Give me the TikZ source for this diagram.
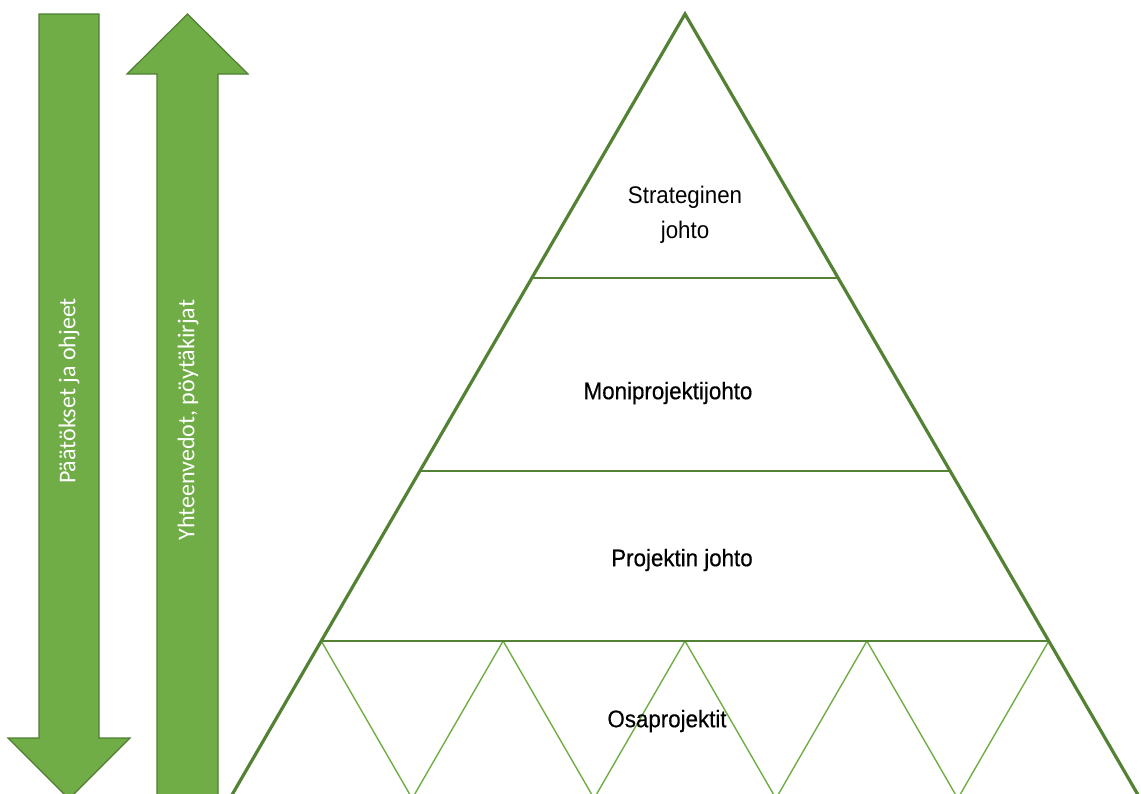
\documentclass[tikz,border=0pt]{standalone}
\usepackage{fontspec}
\setmainfont{Liberation Sans}
\newfontfamily\heavyfont{Liberation Sans}[FakeBold=0.5]
\newfontfamily\arrowfont{Carlito}
\usetikzlibrary{calc}

\definecolor{leaf}{HTML}{70AD47}
\definecolor{leafedge}{HTML}{507E32}
\definecolor{pine}{HTML}{548235}

\tikzset{
  flowarrow/.style={fill=leaf, draw=leafedge, line width=1.2pt, line join=miter},
  arrowlabel/.style={rotate=90, text=white, inner sep=0pt,
    font=\arrowfont\fontsize{24}{28}\selectfont},
  frame/.style={draw=pine, line width=3.2pt, line cap=round},
  tier/.style={draw=pine, line width=2.6pt},
  subdiv/.style={draw=leaf, line width=1.4pt},
  levellabel/.style={inner sep=0pt, align=center,
    font=\fontsize{24}{35}\selectfont},
  heavylabel/.style={levellabel, font=\heavyfont\fontsize{24}{35}\selectfont},
}
\newcommand{\narrow}[1]{\scalebox{0.93}[1]{#1}}

\begin{document}
\begin{tikzpicture}[x=1pt, y=-1pt]
  \useasboundingbox (0,0) rectangle (1141,793);
  \clip (0,0) rectangle (1141,793);

  % downward arrow: decisions and instructions
  \draw[flowarrow] (39,14) -- (99,14) -- (99,738) -- (130,738) -- (69,799)
    -- (8,738) -- (39,738) -- cycle;
  % upward arrow: summaries and minutes
  \draw[flowarrow] (187.5,14) -- (248,74) -- (218,74) -- (218,805)
    -- (157,805) -- (157,74) -- (127,74) -- cycle;

  \node[arrowlabel] (down) at (69,391) {Päätökset ja ohjeet};
  \node[arrowlabel] (up) at (188,420) {Yhteenvedot, pöytäkirjat};

  % pyramid outline
  \coordinate (apex) at (685,14);
  \coordinate (bl) at (229,800);
  \coordinate (br) at (1141,800);

  % tier boundaries
  \coordinate (l1) at ($(apex)!0.3359!(bl)$);
  \coordinate (r1) at ($(apex)!0.3359!(br)$);
  \coordinate (l2) at ($(apex)!0.5814!(bl)$);
  \coordinate (r2) at ($(apex)!0.5814!(br)$);
  \coordinate (l3) at ($(apex)!0.7977!(bl)$);
  \coordinate (r3) at ($(apex)!0.7977!(br)$);

  % zigzag of sub-projects along the lowest tier
  \foreach \i in {0,...,4} {
    \coordinate (t\i) at ($(l3)!\i/4!(r3)$);
  }
  \foreach \i in {0,...,3} {
    \coordinate (b\i) at ($($(t\i)!0.5!(t\the\numexpr\i+1\relax)$) + (0,157.5)$);
  }
  \draw[subdiv] (t0) -- (b0) -- (t1) -- (b1) -- (t2) -- (b2) -- (t3) -- (b3) -- (t4);

  \draw[tier] (l1) -- (r1);
  \draw[tier] (l2) -- (r2);
  \draw[tier] (l3) -- (r3);
  \draw[frame] (bl) -- (apex) -- (br);

  % level labels
  \node[levellabel] (strat) at (685,215) {\narrow{Strateginen}\\\narrow{johto}};
  \node[heavylabel] (multi) at (668,393) {\narrow{Moniprojektijohto}};
  \node[heavylabel] (proj) at (682,560) {\narrow{Projektin johto}};
  \node[heavylabel] (sub) at (667,721) {\narrow{Osaprojektit}};
\end{tikzpicture}
\end{document}
